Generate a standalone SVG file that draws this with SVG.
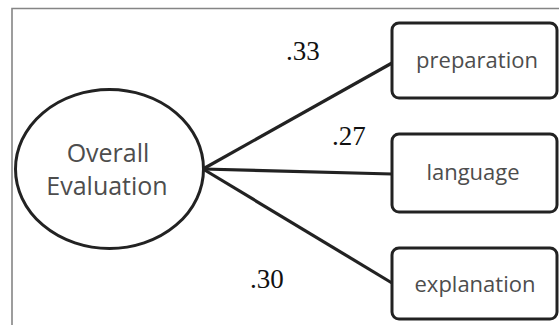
<svg xmlns="http://www.w3.org/2000/svg" width="559" height="325" viewBox="0 0 559 325">
  <style>
    .node { fill: #ffffff; stroke: #222222; stroke-width: 3; }
    .lbl { font-family: "Open Sans", "Liberation Sans", sans-serif; fill: #4d4d4d; text-anchor: middle; }
    .w { font-family: "Liberation Serif", "DejaVu Serif", serif; font-size: 27px; fill: #111111; }
    .edge { stroke: #222222; stroke-width: 3.2; fill: none; }
  </style>
  <rect x="0" y="0" width="559" height="325" fill="#ffffff"/>
  <path d="M12 330 V8.5 H562" fill="none" stroke="#858585" stroke-width="1.6"/>
  <g id="connectors">
    <line class="edge" x1="203" y1="169" x2="392" y2="63"/>
    <line class="edge" x1="203" y1="169" x2="392" y2="174"/>
    <line class="edge" x1="203" y1="169" x2="392" y2="283"/>
    <text class="w" x="286" y="60">.33</text>
    <text class="w" x="332" y="145">.27</text>
    <text class="w" x="250" y="288">.30</text>
  </g>
  <g id="overall">
    <ellipse class="node" cx="109.5" cy="169" rx="94" ry="79.5"/>
    <text class="lbl" x="108" y="162" font-size="25">Overall</text>
    <text class="lbl" x="107" y="195" font-size="25">Evaluation</text>
  </g>
  <g id="preparation">
    <rect class="node" x="392" y="23" width="165" height="75" rx="7"/>
    <text class="lbl" x="477" y="68" font-size="22">preparation</text>
  </g>
  <g id="language">
    <rect class="node" x="392" y="134" width="165" height="78" rx="7"/>
    <text class="lbl" x="473" y="180" font-size="22">language</text>
  </g>
  <g id="explanation">
    <rect class="node" x="392" y="248" width="165" height="71" rx="7"/>
    <text class="lbl" x="475" y="292" font-size="22">explanation</text>
  </g>
</svg>
